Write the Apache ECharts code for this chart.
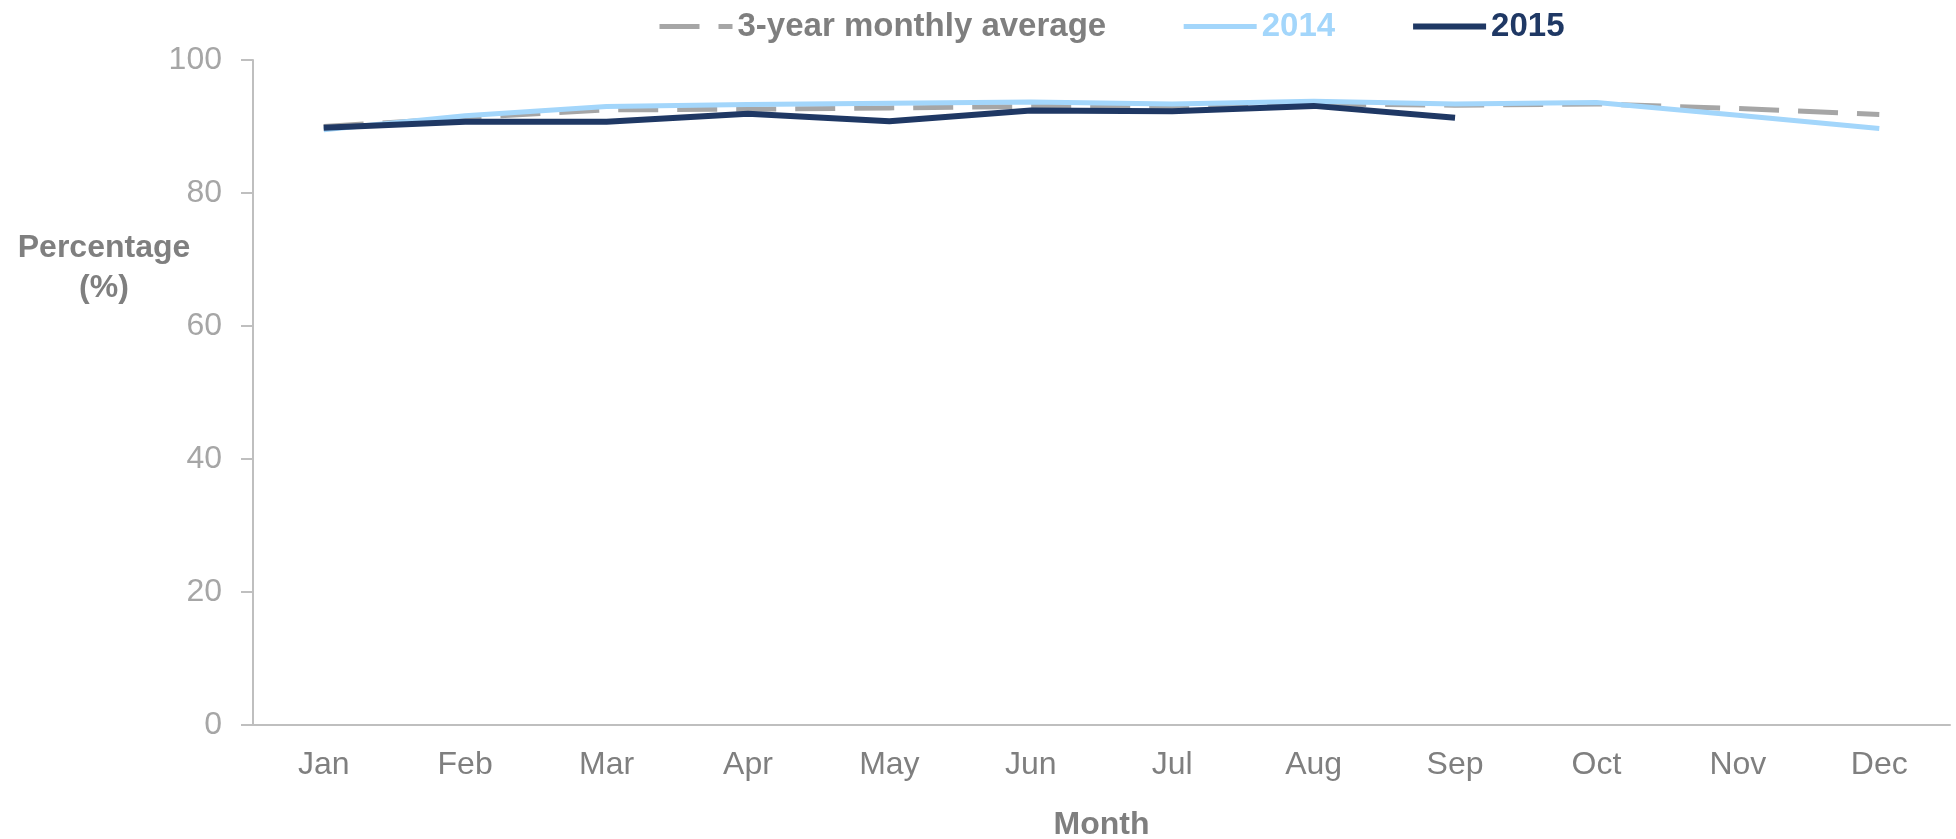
<!DOCTYPE html>
<html>
<head>
<meta charset="utf-8">
<title>Monthly percentage</title>
<script src="https://cdn.jsdelivr.net/npm/echarts@6/dist/echarts.min.js"></script>
<style>
  html, body { margin: 0; padding: 0; background: #fff; }
  #main { width: 1956px; height: 839px; }
</style>
</head>
<body>
<div id="main"></div>
<script>
const months = ["Jan", "Feb", "Mar", "Apr", "May", "Jun", "Jul", "Aug", "Sep", "Oct", "Nov", "Dec"];
const yTicks = [0, 20, 40, 60, 80, 100];
const avg3Year = [90.0, 91.3, 92.5, 92.6, 92.8, 93.0, 93.0, 93.4, 93.2, 93.4, 92.7, 91.8];
const y2014 = [89.5, 91.6, 93.0, 93.3, 93.5, 93.7, 93.4, 93.8, 93.4, 93.6, 91.7, 89.7];
const y2015 = [89.8, 90.7, 90.7, 91.9, 90.8, 92.4, 92.3, 93.1, 91.3, null, null, null];

const font = "'Liberation Sans', Arial, sans-serif";

var myChart = echarts.init(document.querySelector("#main"));

const options = {
  animation: false,
  textStyle: { fontFamily: font },
  legend: {
    top: 5,
    left: 652,
    itemWidth: 73,
    itemHeight: 14,
    itemGap: 75,
    itemStyle: { opacity: 0 },
    lineStyle: { width: "inherit" },
    textStyle: { fontSize: 33, fontWeight: "bold", fontFamily: font },
    data: [
      { name: "3-year monthly average", textStyle: { color: "#7f7f7f" } },
      { name: "2014", textStyle: { color: "#a3d6fb" } },
      { name: "2015", textStyle: { color: "#1f3864" } }
    ]
  },
  grid: { left: 253, right: 6, top: 60, bottom: 114, outerBoundsMode: "none", containLabel: false },
  xAxis: {
    type: "category",
    data: months,
    boundaryGap: true,
    name: "Month",
    nameLocation: "middle",
    nameGap: 84,
    nameTextStyle: { fontSize: 32, fontWeight: "bold", color: "#7f7f7f" },
    axisLine: { lineStyle: { color: "#bfbfbf", width: 2 } },
    axisTick: { show: false },
    axisLabel: { fontSize: 32, color: "#7f7f7f", margin: 24 },
    splitLine: { show: false }
  },
  yAxis: {
    type: "value",
    min: yTicks[0],
    max: yTicks[yTicks.length - 1],
    interval: 20,
    axisLine: { show: true, lineStyle: { color: "#bfbfbf", width: 2 } },
    axisTick: { show: true, length: 12, lineStyle: { color: "#bfbfbf", width: 2 } },
    axisLabel: { fontSize: 32, color: "#a6a6a6", margin: 31 },
    splitLine: { show: false }
  },
  graphic: [
    {
      type: "text",
      x: 104,
      y: 268,
      style: {
        text: "Percentage\n(%)",
        align: "center",
        verticalAlign: "middle",
        font: "bold 32px " + font,
        fill: "#7f7f7f",
        lineHeight: 40
      }
    }
  ],
  series: [
    {
      name: "3-year monthly average",
      type: "line",
      data: avg3Year,
      symbol: "none",
      lineStyle: { color: "#a6a6a6", width: 5, type: [40, 19] },
      itemStyle: { color: "#a6a6a6" }
    },
    {
      name: "2014",
      type: "line",
      data: y2014,
      symbol: "none",
      lineStyle: { color: "#a3d6fb", width: 5 },
      itemStyle: { color: "#a3d6fb" }
    },
    {
      name: "2015",
      type: "line",
      data: y2015,
      symbol: "none",
      lineStyle: { color: "#1f3864", width: 6 },
      itemStyle: { color: "#1f3864" }
    }
  ]
};

myChart.setOption(options);
window.onresize = function() {
  myChart.resize();
};
</script>
</body>
</html>
